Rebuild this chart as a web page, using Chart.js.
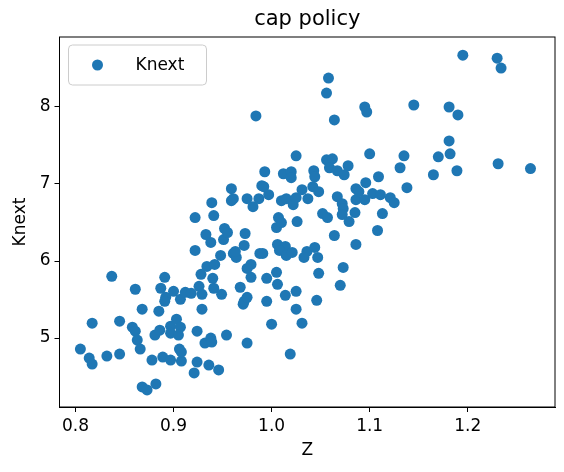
<!DOCTYPE html>
<html><head><meta charset="utf-8">
<script src="https://cdn.jsdelivr.net/npm/chart.js@4/dist/chart.umd.min.js"></script>
<style>html,body{margin:0;padding:0;background:#fff}#wrap{width:564px;height:472px}</style>
</head><body><div id="wrap"><canvas id="c" width="564" height="472"></canvas></div>
<script>
const chartTitle = "cap policy";
const seriesLabel = "Knext";
const xTitle = "Z";
const yTitle = "Knext";
const xTicks = [0.8, 0.9, 1.0, 1.1, 1.2];
const yTicks = [5, 6, 7, 8];
const zVals = [0.805,0.814,0.817,0.832,0.845,0.817,0.837,0.845,0.861,0.868,0.858,0.861,0.863,0.866,0.868,0.873,0.882,0.878,0.889,0.897,0.908,0.906,0.908,0.881,0.886,0.885,0.897,0.897,0.903,0.907,0.905,0.891,0.887,0.892,0.891,0.900,0.907,0.912,0.918,0.926,0.929,0.929,0.924,0.924,0.921,0.936,0.946,0.932,0.938,0.939,0.954,0.975,0.971,0.972,0.975,0.968,0.949,0.941,0.940,0.928,0.934,0.942,0.948,0.922,0.938,0.933,0.951,0.952,0.955,0.922,0.941,0.939,0.959,0.973,0.972,0.961,0.964,0.963,0.979,0.975,0.979,0.981,0.988,
0.984,1.064,1.095,1.097,1.025,1.100,1.056,1.062,1.078,1.059,1.067,1.074,0.993,1.012,1.020,1.020,1.043,1.044,1.109,1.131,0.959,0.961,0.975,0.987,0.990,0.992,0.997,1.010,1.015,1.022,1.025,1.031,1.037,1.042,1.048,1.067,1.072,1.073,1.072,1.052,1.057,1.079,1.085,1.086,1.086,1.089,1.095,1.096,1.103,1.111,1.121,1.125,1.113,1.108,1.086,1.064,1.073,1.070,1.007,1.005,1.010,1.026,0.991,1.006,1.014,1.008,1.015,1.021,1.036,1.044,1.033,1.047,1.048,1.005,0.995,1.006,0.995,1.014,1.025,1.025,1.046,1.031,1.000,1.019,
1.195,1.230,1.234,1.145,1.181,1.190,1.181,1.135,1.170,1.182,1.231,1.264,1.165,1.189,1.138,1.058,1.056];
const knextVals = [4.856,4.740,4.662,4.766,4.792,5.193,5.801,5.219,5.633,5.374,5.141,5.089,4.973,4.856,4.365,4.326,4.404,4.714,4.753,4.714,4.701,4.856,4.818,5.038,5.102,5.348,5.154,5.063,5.245,5.141,5.038,5.788,5.646,5.529,5.477,5.607,5.503,5.594,5.581,5.671,5.568,5.374,5.089,4.688,4.546,4.649,4.585,4.934,4.999,4.947,5.038,4.934,5.439,5.477,5.529,5.659,5.568,5.646,5.775,5.827,5.930,5.956,6.072,6.137,6.241,6.344,6.279,6.422,6.370,6.564,6.590,6.758,6.784,6.357,6.202,6.098,6.047,6.124,5.956,5.904,5.788,6.706,6.098,
7.884,7.832,8.000,7.935,7.366,7.392,7.314,7.327,7.237,7.211,7.172,7.120,7.159,7.133,7.159,7.082,7.172,7.094,7.094,7.211,6.939,6.810,6.810,6.810,6.978,6.965,6.862,6.784,6.810,6.732,6.823,6.926,6.810,6.965,6.900,6.836,6.745,6.680,6.603,6.616,6.564,6.512,6.629,6.797,6.939,6.900,6.797,7.017,6.875,6.862,6.823,6.758,6.616,6.396,6.215,6.331,5.917,5.684,6.564,6.435,6.499,6.512,6.098,6.215,6.189,6.137,6.072,6.111,6.124,6.176,6.047,6.047,5.840,5.853,5.775,5.697,5.477,5.555,5.607,5.374,5.490,5.193,5.180,4.792,
8.673,8.634,8.505,8.026,8.000,7.897,7.560,7.366,7.353,7.392,7.263,7.200,7.120,7.172,6.952,8.375,8.181];

const color = '#1f77b4';
const font = "'DejaVu Sans', sans-serif";
const pts = zVals.map((z, i) => ({x: z, y: knextVals[i]}));

const deco = {
  id: 'deco',
  afterDraw(chart) {
    const ctx = chart.ctx, a = chart.chartArea;
    ctx.save();
    ctx.strokeStyle = '#000'; ctx.lineWidth = 1;
    ctx.strokeRect(a.left, a.top, a.right - a.left, a.bottom - a.top);
    ctx.fillStyle = '#000';
    ctx.textAlign = 'center'; ctx.textBaseline = 'middle';
    ctx.font = "21px " + font;
    ctx.fillText(chartTitle, (a.left + a.right) / 2, 20);
    ctx.font = "17px " + font;
    ctx.fillText(xTitle, (a.left + a.right) / 2, 451);
    ctx.save();
    ctx.translate(21, (a.top + a.bottom) / 2);
    ctx.rotate(-Math.PI / 2);
    ctx.fillText(yTitle, 0, 0);
    ctx.restore();
    // legend
    const lx = a.left + 9, ly = a.top + 8, lw = 138, lh = 40;
    ctx.fillStyle = 'rgba(255,255,255,0.8)';
    ctx.strokeStyle = '#cccccc';
    ctx.beginPath();
    if (ctx.roundRect) ctx.roundRect(lx, ly, lw, lh, 4); else ctx.rect(lx, ly, lw, lh);
    ctx.fill(); ctx.stroke();
    ctx.fillStyle = color;
    ctx.beginPath(); ctx.arc(lx + 29, ly + lh / 2, 5.5, 0, Math.PI * 2); ctx.fill();
    ctx.fillStyle = '#000'; ctx.textAlign = 'left';
    ctx.fillText(chart.data.datasets[0].label, lx + 67, ly + lh / 2 + 1);
    ctx.restore();
  }
};

new Chart(document.getElementById('c'), {
  type: 'scatter',
  data: { datasets: [{ label: seriesLabel, data: pts, backgroundColor: color, borderColor: color, pointRadius: 5.5, pointHoverRadius: 5.5, borderWidth: 0 }] },
  options: {
    responsive: false, animation: false, devicePixelRatio: 1,
    layout: { padding: { top: 37, right: 9, left: 0, bottom: 0 } },
    plugins: { legend: { display: false }, title: { display: false }, tooltip: { enabled: false } },
    scales: {
      x: {
        type: 'linear', min: 0.7837, max: 1.289,
        afterBuildTicks: s => { s.ticks = xTicks.map(v => ({ value: v })); },
        afterFit: s => { s.height = 65; },
        ticks: { color: '#000', font: { family: font, size: 17 }, padding: 4, maxRotation: 0, autoSkip: false, callback: v => v.toFixed(1) },
        grid: { display: true, drawOnChartArea: false, drawTicks: true, tickLength: 5, color: '#000' },
        border: { display: true, color: '#000' }
      },
      y: {
        type: 'linear', min: 4.104, max: 8.909,
        afterBuildTicks: s => { s.ticks = yTicks.map(v => ({ value: v })); },
        afterFit: s => { s.width = 59.5; },
        ticks: { color: '#000', font: { family: font, size: 17 }, padding: 4, autoSkip: false, callback: v => String(v) },
        grid: { display: true, drawOnChartArea: false, drawTicks: true, tickLength: 5, color: '#000' },
        border: { display: true, color: '#000' }
      }
    }
  },
  plugins: [deco]
});
</script></body></html>
